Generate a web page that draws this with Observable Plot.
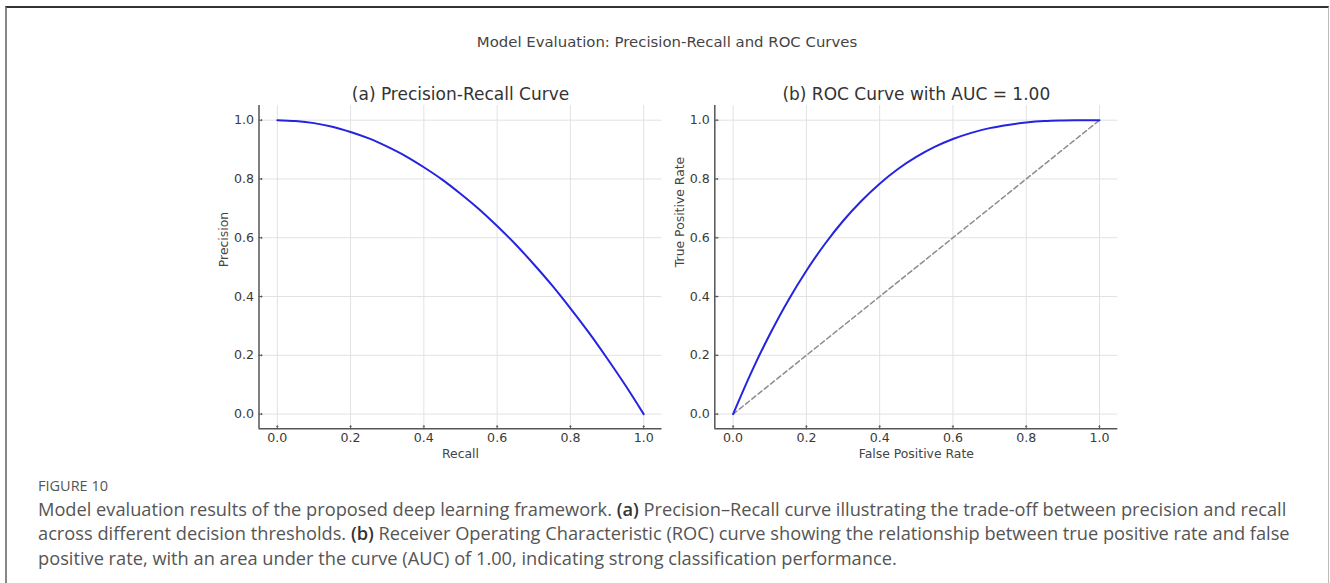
<!DOCTYPE html>
<html><head><meta charset="utf-8">
<script src="https://cdn.jsdelivr.net/npm/d3@7"></script>
<script src="https://cdn.jsdelivr.net/npm/@observablehq/plot@0.6"></script>
<style>
html,body{margin:0;padding:0;background:#fff;}
body{width:1330px;height:583px;position:relative;overflow:hidden;}
#frame{position:absolute;left:5px;top:6px;width:1324px;height:640px;border-top:2px solid #333;border-left:2px solid #888;border-right:1px solid #bbb;box-sizing:border-box;}
.abs{position:absolute;}
#title{left:0;width:1334px;top:32.7px;text-align:center;font-family:"DejaVu Sans";font-size:14.9px;color:#444;line-height:18px;white-space:nowrap;}
#figlab{left:38px;top:477px;font-family:"Open Sans";font-size:14.5px;line-height:18px;color:#555;}
#caption{left:38px;top:497px;font-family:"Open Sans";font-size:16px;line-height:24.3px;color:#555;white-space:nowrap;}
#caption b{font-weight:600;color:#333;}
</style>
</head><body>
<div id="frame"></div>
<div id="title" class="abs">Model Evaluation: Precision-Recall and ROC Curves</div>
<div id="left" class="abs" style="left:190px;top:75px;"></div>
<div id="right" class="abs" style="left:670px;top:75px;"></div>
<div id="figlab" class="abs">FIGURE 10</div>
<div id="caption" class="abs"><span id="l1">Model evaluation results of the proposed deep learning framework. <b>(a)</b> Precision–Recall curve illustrating the trade-off between precision and recall</span><br>across different decision thresholds. <b>(b)</b> Receiver Operating Characteristic (ROC) curve showing the relationship between true positive rate and false<br>positive rate, with an area under the curve (AUC) of 1.00, indicating strong classification performance.</div>
<script>
// ---- data ----
const recall = [0,0.05,0.1,0.15,0.2,0.25,0.3,0.35,0.4,0.45,0.5,0.55,0.6,0.65,0.7,0.75,0.8,0.85,0.9,0.95,1.0];
const precision = [1.0,0.997,0.99,0.978,0.96,0.938,0.91,0.878,0.84,0.798,0.75,0.698,0.64,0.578,0.51,0.438,0.36,0.278,0.19,0.098,0.0];
const fpr = [0,0.05,0.1,0.15,0.2,0.25,0.3,0.35,0.4,0.45,0.5,0.55,0.6,0.65,0.7,0.75,0.8,0.85,0.9,0.95,1.0];
const tpr = [0.0,0.143,0.271,0.386,0.488,0.578,0.657,0.725,0.784,0.834,0.875,0.909,0.936,0.957,0.973,0.984,0.992,0.997,0.999,1.0,1.0];
const chanceX = [0,1];
const chanceY = [0,1];
const ticks = [0,0.2,0.4,0.6,0.8,1.0];
const axisDomain = [-0.05,1.05];
const titles = ["(a) Precision-Recall Curve","(b) ROC Curve with AUC = 1.00"];
const xLabels = ["Recall","False Positive Rate"];
const yLabels = ["Precision","True Positive Rate"];

const prData = recall.map((r,i)=>({x:r,y:precision[i]}));
const rocData = fpr.map((f,i)=>({x:f,y:tpr[i]}));
const chanceData = chanceX.map((c,i)=>({x:c,y:chanceY[i]}));

function panel({data, chance, title, xLabel, yLabel, width, marginLeft, marginRight}) {
  const marks = [
    Plot.gridX(ticks, {stroke:"#e2e2e2", strokeOpacity:1, strokeWidth:1}),
    Plot.gridY(ticks, {stroke:"#e2e2e2", strokeOpacity:1, strokeWidth:1}),
    Plot.axisX(ticks, {tickFormat:d3.format(".1f"), tickSize:0, tickPadding:4, label:null, fill:"#3a3a3a"}),
    Plot.axisY(ticks, {tickFormat:d3.format(".1f"), tickSize:0, tickPadding:5, label:null, fill:"#3a3a3a"}),
    // spines (left and bottom only)
    Plot.ruleY([axisDomain[0]], {stroke:"#555", strokeWidth:1.5}),
    Plot.ruleX([axisDomain[0]], {stroke:"#555", strokeWidth:1.5}),
    // short inward tick marks
    Plot.vector(ticks, {x:d=>d, frameAnchor:"bottom", length:3, anchor:"start", rotate:0, stroke:"#555", strokeWidth:1}),
    Plot.vector(ticks, {y:d=>d, frameAnchor:"left", length:3, anchor:"start", rotate:90, stroke:"#555", strokeWidth:1}),
  ];
  if (chance) marks.push(Plot.line(chance, {x:"x", y:"y", stroke:"#8c8c8c", strokeWidth:1.5, strokeDasharray:"5,3"}));
  marks.push(
    Plot.line(data, {x:"x", y:"y", stroke:"#2424e0", strokeWidth:2, curve:"catmull-rom"}),
    Plot.text([title], {text:d=>d, frameAnchor:"top", lineAnchor:"middle", dy:-10.7, fontSize:17, fill:"#333"}),
    Plot.text([xLabel], {text:d=>d, frameAnchor:"bottom", lineAnchor:"middle", dy:25.7, fontSize:12.4, fill:"#444"}),
    Plot.text([yLabel], {text:d=>d, frameAnchor:"left", rotate:-90, dx:-35, fontSize:12.4, fill:"#444"})
  );
  return Plot.plot({
    width, height:395,
    marginLeft, marginRight, marginTop:30, marginBottom:41.7,
    x:{domain:axisDomain},
    y:{domain:axisDomain},
    style:{fontFamily:"DejaVu Sans", fontSize:"12.6px", color:"#444", background:"transparent", overflow:"visible"},
    marks
  });
}

document.getElementById("left").append(panel({data:prData, chance:null, title:titles[0], xLabel:xLabels[0], yLabel:yLabels[0], width:480, marginLeft:68.5, marginRight:8.5}));
document.getElementById("right").append(panel({data:rocData, chance:chanceData, title:titles[1], xLabel:xLabels[1], yLabel:yLabels[1], width:460, marginLeft:44.3, marginRight:12.7}));

// fit caption line width to the reference (~1249px)
const l1 = document.getElementById("l1");
const w = l1.getBoundingClientRect().width;
const cap = document.getElementById("caption");
cap.style.fontSize = (16 * 1249 / w).toFixed(2) + "px";
</script>
</body></html>
